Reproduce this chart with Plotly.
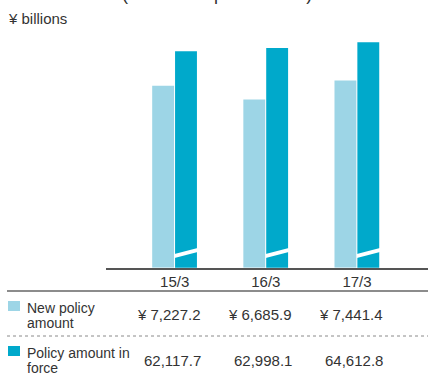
import plotly.graph_objects as go

# Fiscal year-ends and amounts (¥ billions)
periods = ["15/3", "16/3", "17/3"]
new_policy = [7227.2, 6685.9, 7441.4]
in_force = [62117.7, 62998.1, 64612.8]
series_names = [["New policy", "amount"], ["Policy amount in", "force"]]

LIGHT = "#9dd5e6"
DARK = "#00a9cb"
TEXT = "#333333"
FONT = "Liberation Sans, Arial, sans-serif"

W, H = 428, 375
base_px = 267.7            # pixel row of the baseline
dom_y0 = (H - base_px) / H
plot_h = base_px           # plot area runs from the top edge down to the baseline
unit_light = 39.73         # ¥bn per pixel for new-policy bars
unit_dark = 277.2          # ¥bn per pixel for the broken in-force bars
dark_floor = 2130.0        # value hidden below the axis break

xs = list(range(len(periods)))
bw = 0.24

fig = go.Figure()
fig.add_trace(go.Bar(x=xs, y=new_policy, width=bw, offset=-0.247,
                     marker=dict(color=LIGHT, line_width=0), yaxis="y",
                     name="New policy amount", showlegend=False))
fig.add_trace(go.Bar(x=xs, y=in_force, width=bw, offset=0.004,
                     marker=dict(color=DARK, line_width=0), yaxis="y2",
                     name="Policy amount in force", showlegend=False))

shapes = []
# Axis-break stripe across each in-force bar
lo_c, hi_c, half = 11.7 * unit_light, 17.7 * unit_light, 2.0 * unit_light
for x in xs:
    x0, x1 = x - 0.002, x + 0.252
    path = (f"M {x0},{lo_c - half} L {x1},{hi_c - half} "
            f"L {x1},{hi_c + half} L {x0},{lo_c + half} Z")
    shapes.append(dict(type="path", path=path, xref="x", yref="y",
                       fillcolor="white", line=dict(width=0), layer="above"))


def py(px):
    return (H - px) / H


def pxx(px):
    return px / W


# Table rules
shapes.append(dict(type="line", xref="paper", yref="paper",
                   x0=pxx(7), x1=1, y0=py(291), y1=py(291),
                   line=dict(color="#666666", width=1.5)))
shapes.append(dict(type="line", xref="paper", yref="paper",
                   x0=pxx(7), x1=1, y0=py(336), y1=py(336),
                   line=dict(color="#8a8a8a", width=1, dash="dot")))
# Legend swatches
for color, top in [(LIGHT, 301), (DARK, 346)]:
    shapes.append(dict(type="rect", xref="paper", yref="paper",
                       x0=pxx(8), x1=pxx(20), y0=py(top + 10), y1=py(top),
                       fillcolor=color, line=dict(width=0)))

ann = []
# Heading running off the top edge
ann.append(dict(text="Policy amount in force (Three companies total)",
                xref="paper", yref="paper", x=pxx(-62), y=1,
                xanchor="left", yanchor="bottom", yshift=-6, showarrow=False,
                font=dict(family=FONT, size=18, color=TEXT)))
ann.append(dict(text="¥ billions", xref="paper", yref="paper",
                x=pxx(6), y=py(19), xanchor="left", yanchor="middle",
                showarrow=False, font=dict(family=FONT, size=15, color=TEXT)))
# Row labels, one annotation per line
for lines, yc in zip(series_names, [308, 353]):
    for k, line in enumerate(lines):
        ann.append(dict(text=line, xref="paper", yref="paper", x=pxx(25),
                        y=py(yc + 15 * k), xanchor="left", yanchor="middle",
                        showarrow=False,
                        font=dict(family=FONT, size=14, color=TEXT)))
# Row values
for i, x in enumerate(xs):
    ann.append(dict(text=f"¥ {new_policy[i]:,.1f}", xref="x", yref="paper",
                    x=x + 0.31, y=py(314), xanchor="right", yanchor="middle",
                    showarrow=False,
                    font=dict(family=FONT, size=15, color=TEXT)))
    ann.append(dict(text=f"{in_force[i]:,.1f}", xref="x", yref="paper",
                    x=x + 0.31, y=py(360), xanchor="right", yanchor="middle",
                    showarrow=False,
                    font=dict(family=FONT, size=15, color=TEXT)))

x_left = 0 - (174.7 - 106) / 91.15
x_right = x_left + (W - 106) / 91.15

fig.update_layout(
    width=W, height=H, margin=dict(l=0, r=0, t=0, b=0),
    paper_bgcolor="white", plot_bgcolor="white",
    barmode="overlay",
    xaxis=dict(domain=[106 / W, 1], range=[x_left, x_right],
               tickmode="array", tickvals=xs, ticktext=periods,
               showgrid=False, zeroline=False, showline=True,
               linecolor="#555555", linewidth=1.5, ticks="",
               tickfont=dict(family=FONT, size=15, color=TEXT)),
    yaxis=dict(domain=[dom_y0, 1], range=[0, plot_h * unit_light],
               visible=False, showgrid=False, zeroline=False),
    yaxis2=dict(domain=[dom_y0, 1], overlaying="y",
                range=[dark_floor, dark_floor + plot_h * unit_dark],
                visible=False, showgrid=False, zeroline=False),
    shapes=shapes, annotations=ann, showlegend=False,
)

fig.write_html("out.html")
